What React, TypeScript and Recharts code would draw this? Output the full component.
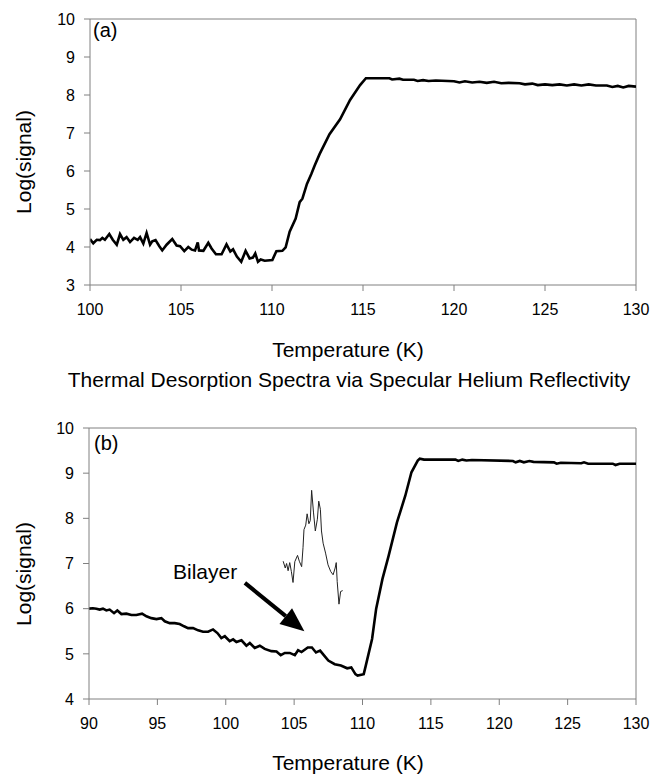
import { Line, LineChart, ReferenceLine, XAxis, YAxis } from "recharts";

// panel (a): measured temperature points and log signal
const tempA = [
  100.0, 100.18, 100.37, 100.55, 100.68, 100.82, 101.06, 101.25, 101.47, 101.65,
  101.83, 102.01, 102.2, 102.42, 102.62, 102.75, 102.93, 103.11, 103.3, 103.42,
  103.6, 103.81, 103.97, 104.21, 104.52, 104.76, 104.95, 105.18, 105.4, 105.59,
  105.77, 105.92, 105.99, 106.23, 106.5, 106.68, 106.92, 107.23, 107.5, 107.71,
  107.86, 108.07, 108.31, 108.55, 108.77, 108.95, 109.08, 109.23, 109.38, 109.6,
  110.02, 110.24, 110.57, 110.75, 110.97, 111.3, 111.52, 111.67, 111.92, 112.16,
  112.34, 112.62, 113.16, 113.74, 114.29, 114.84, 115.16, 116.45, 116.6, 117.0,
  117.2, 117.8, 118.0, 118.3, 118.6, 119.0, 120.0, 120.3, 120.6, 121.0,
  121.4, 121.8, 122.2, 122.6, 123.0, 123.6, 123.9, 124.3, 124.6, 125.0,
  125.4, 125.8, 126.2, 126.6, 127.0, 127.4, 127.8, 128.4, 128.7, 129.0,
  129.3, 129.6, 130.0,
];
const signalA = [
  4.21, 4.1, 4.19, 4.18, 4.24, 4.19, 4.34, 4.19, 4.06, 4.34,
  4.19, 4.26, 4.13, 4.24, 4.19, 4.26, 4.09, 4.37, 4.06, 4.15,
  4.18, 4.02, 3.91, 4.06, 4.21, 4.04, 4.02, 3.89, 4.0, 3.93,
  3.91, 4.12, 3.91, 3.9, 4.11, 3.96, 3.81, 3.81, 4.07, 3.88,
  3.94, 3.75, 3.61, 3.9, 3.7, 3.72, 3.83, 3.61, 3.67, 3.64,
  3.66, 3.89, 3.9, 3.99, 4.4, 4.75, 5.18, 5.27, 5.66, 5.92,
  6.14, 6.45, 6.97, 7.36, 7.87, 8.26, 8.44, 8.44, 8.41, 8.43,
  8.4, 8.4, 8.37, 8.39, 8.37, 8.38, 8.36, 8.33, 8.36, 8.33,
  8.35, 8.32, 8.35, 8.31, 8.32, 8.31, 8.28, 8.3, 8.26, 8.28,
  8.26, 8.28, 8.25, 8.28, 8.25, 8.28, 8.25, 8.25, 8.21, 8.24,
  8.2, 8.24, 8.22,
];

// panel (b): main trace
const tempB = [
  90.0, 90.29, 90.54, 90.78, 91.02, 91.27, 91.51, 91.83, 92.07, 92.37,
  92.73, 93.1, 93.46, 93.88, 94.2, 94.56, 94.93, 95.29, 95.54, 95.9,
  96.27, 96.63, 96.95, 97.24, 97.61, 97.98, 98.34, 98.71, 99.07, 99.39,
  99.68, 99.93, 100.29, 100.54, 100.78, 101.15, 101.51, 101.76, 102.12, 102.49,
  102.85, 103.34, 103.71, 104.02, 104.32, 104.68, 105.05, 105.29, 105.54, 106.0,
  106.3, 106.6, 106.9, 107.2, 107.5, 107.97, 108.42, 108.88, 109.18, 109.48,
  109.64, 110.09, 110.24, 110.7, 111.0, 111.46, 111.91, 112.52, 113.13, 113.58,
  114.04, 114.19, 114.5, 116.8, 117.0, 117.3, 117.6, 118.0, 121.0, 121.2,
  121.5, 121.8, 122.2, 122.5, 124.0, 124.2, 124.5, 126.0, 126.2, 126.5,
  128.3, 128.5, 128.8, 130.0,
];
const signalB = [
  6.0, 6.01, 6.0, 5.98, 6.0, 5.96, 5.98, 5.9, 5.96, 5.88,
  5.89, 5.86, 5.86, 5.89, 5.83, 5.79, 5.77, 5.79, 5.72, 5.68,
  5.68, 5.66, 5.61, 5.57, 5.57, 5.52, 5.49, 5.49, 5.54, 5.46,
  5.35, 5.39, 5.28, 5.32, 5.26, 5.3, 5.18, 5.24, 5.13, 5.18,
  5.11, 5.06, 5.05, 4.97, 5.02, 5.02, 4.97, 5.08, 5.04, 5.14,
  5.14, 5.03, 5.07, 4.96, 4.85, 4.77, 4.74, 4.68, 4.7, 4.55,
  4.52, 4.55, 4.74, 5.33, 6.0, 6.66, 7.17, 7.91, 8.5, 9.02,
  9.28, 9.32, 9.3, 9.3, 9.27, 9.3, 9.28, 9.29, 9.27, 9.24,
  9.27, 9.24, 9.27, 9.25, 9.24, 9.21, 9.23, 9.22, 9.24, 9.21,
  9.21, 9.18, 9.21, 9.21,
];

// panel (b): bilayer peak (thin trace)
const tempPeak = [
  104.2, 104.35, 104.45, 104.56, 104.68, 104.8, 104.92, 105.05, 105.25, 105.38,
  105.55, 105.65, 105.72, 105.85, 105.95, 106.08, 106.18, 106.28, 106.42, 106.55,
  106.7, 106.8, 106.92, 107.0, 107.12, 107.3, 107.48, 107.68, 107.85, 108.0,
  108.08, 108.15, 108.28, 108.4, 108.55,
];
const signalPeak = [
  7.05, 6.9, 7.0, 6.84, 7.02, 6.82, 6.58, 7.04, 7.18, 7.05,
  6.93, 7.35, 7.75, 7.85, 8.1, 7.88, 7.95, 8.62, 8.12, 7.72,
  7.98, 8.38, 8.2, 7.72, 7.45, 7.23, 6.97, 6.82, 6.75, 6.9,
  7.02, 6.6, 6.1, 6.38, 6.4,
];

const ticksA = [100, 105, 110, 115, 120, 125, 130];
const ticksB = [90, 95, 100, 105, 110, 115, 120, 125, 130];
const yTicksA = [3, 4, 5, 6, 7, 8, 9, 10];
const yTicksB = [4, 5, 6, 7, 8, 9, 10];

const zip = (xs: number[], ys: number[]) => xs.map((t, i) => ({ t, v: ys[i] }));
const dataA = zip(tempA, signalA);
const dataB = zip(tempB, signalB);
const dataPeak = zip(tempPeak, signalPeak);

const FONT = "'Liberation Sans', Arial, sans-serif";
const GREY = "#808080";
const tickStyle = { fill: "#000", fontSize: 16, fontFamily: FONT };

function Arrow(props: any) {
  const { x1, y1, x2, y2 } = props;
  const ang = Math.atan2(y2 - y1, x2 - x1);
  const len = 24;
  const half = 10;
  const bx = x2 - len * Math.cos(ang);
  const by = y2 - len * Math.sin(ang);
  const px = -Math.sin(ang) * half;
  const py = Math.cos(ang) * half;
  return (
    <g>
      <line x1={x1} y1={y1} x2={bx} y2={by} stroke="#000" strokeWidth={4} />
      <polygon
        points={`${x2},${y2} ${bx + px},${by + py} ${bx - px},${by - py}`}
        fill="#000"
      />
    </g>
  );
}

const text = (extra: React.CSSProperties): React.CSSProperties => ({
  position: "absolute",
  fontFamily: FONT,
  color: "#000",
  lineHeight: 1,
  whiteSpace: "nowrap",
  ...extra,
});

export default function App() {
  return (
    <div
      style={{
        position: "absolute",
        left: 0,
        top: 0,
        width: 655,
        height: 775,
        background: "#fff",
        overflow: "hidden",
      }}
    >
      <div style={{ position: "absolute", left: 0, top: 0 }}>
        <LineChart width={655} height={330} margin={{ top: 19, right: 19, left: 0, bottom: 0 }}>
          <XAxis
            type="number"
            dataKey="t"
            domain={[100, 130]}
            ticks={ticksA}
            height={45}
            tick={tickStyle}
            tickSize={6}
            tickMargin={13}
            axisLine={{ stroke: GREY }}
            tickLine={{ stroke: GREY }}
            allowDataOverflow
          />
          <YAxis
            type="number"
            domain={[3, 10]}
            ticks={yTicksA}
            width={90}
            tick={tickStyle}
            tickSize={6}
            tickMargin={9}
            axisLine={{ stroke: GREY }}
            tickLine={{ stroke: GREY }}
            allowDataOverflow
          />
          <ReferenceLine y={10} stroke={GREY} />
          <ReferenceLine x={130} stroke={GREY} />
          <Line
            data={dataA}
            dataKey="v"
            type="linear"
            stroke="#000"
            strokeWidth={2.6}
            dot={false}
            isAnimationActive={false}
          />
        </LineChart>
      </div>

      <div style={{ position: "absolute", left: 0, top: 400 }}>
        <LineChart width={655} height={345} margin={{ top: 28, right: 19, left: 0, bottom: 0 }}>
          <XAxis
            type="number"
            dataKey="t"
            domain={[90, 130]}
            ticks={ticksB}
            height={46}
            tick={tickStyle}
            tickSize={6}
            tickMargin={13}
            axisLine={{ stroke: GREY }}
            tickLine={{ stroke: GREY }}
            allowDataOverflow
          />
          <YAxis
            type="number"
            domain={[4, 10]}
            ticks={yTicksB}
            width={89}
            tick={tickStyle}
            tickSize={6}
            tickMargin={9}
            axisLine={{ stroke: GREY }}
            tickLine={{ stroke: GREY }}
            allowDataOverflow
          />
          <ReferenceLine y={10} stroke={GREY} />
          <ReferenceLine x={130} stroke={GREY} />
          <ReferenceLine
            segment={[
              { x: 101.4, y: 6.57 },
              { x: 105.75, y: 5.5 },
            ]}
            shape={Arrow}
          />
          <Line
            data={dataB}
            dataKey="v"
            type="linear"
            stroke="#000"
            strokeWidth={2.6}
            dot={false}
            isAnimationActive={false}
          />
          <Line
            data={dataPeak}
            dataKey="v"
            type="linear"
            stroke="#222"
            strokeWidth={1}
            dot={false}
            isAnimationActive={false}
          />
        </LineChart>
      </div>

      <div style={text({ left: 93, top: 20, fontSize: 20 })}>(a)</div>
      <div style={text({ left: 94, top: 433, fontSize: 20 })}>(b)</div>
      <div style={text({ left: 173, top: 561, fontSize: 21 })}>Bilayer</div>

      <div style={text({ left: 348, top: 339, fontSize: 21, transform: "translateX(-50%)" })}>
        Temperature (K)
      </div>
      <div style={text({ left: 348, top: 752, fontSize: 21, transform: "translateX(-50%)" })}>
        Temperature (K)
      </div>
      <div style={text({ left: 349, top: 369, fontSize: 21, transform: "translateX(-50%)" })}>
        Thermal Desorption Spectra via Specular Helium Reflectivity
      </div>

      <div
        style={text({
          left: 23,
          top: 162,
          fontSize: 21,
          transform: "translate(-50%, -50%) rotate(-90deg)",
        })}
      >
        Log(signal)
      </div>
      <div
        style={text({
          left: 23,
          top: 574,
          fontSize: 21,
          transform: "translate(-50%, -50%) rotate(-90deg)",
        })}
      >
        Log(signal)
      </div>
    </div>
  );
}
